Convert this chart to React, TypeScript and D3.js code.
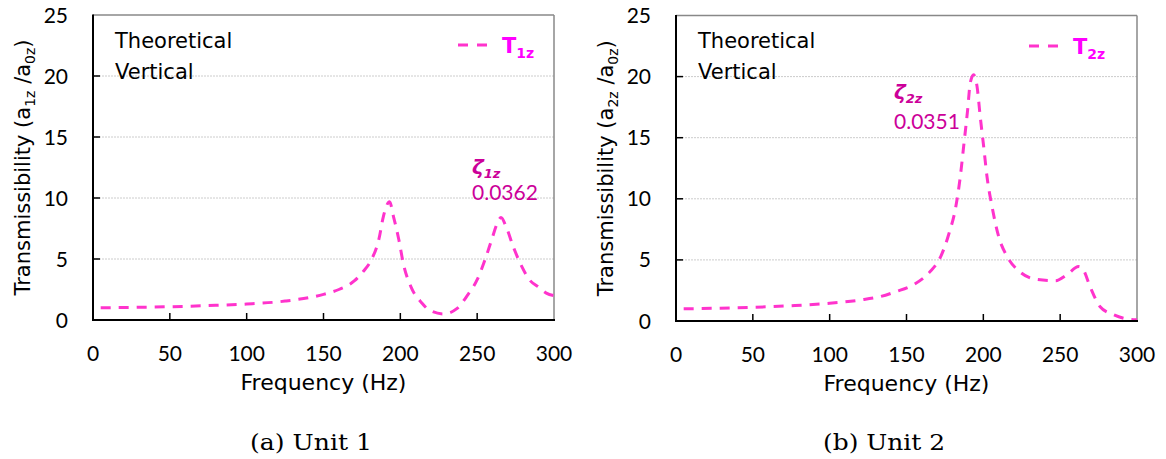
import React from "react";
import * as d3 from "d3";

// ---- data ----
const freqUnit1 = [5, 25, 50, 75, 100, 125, 150, 160, 170, 176, 181, 186, 189, 193, 195.5, 199, 202, 207, 214, 219, 228, 237, 243, 250, 255, 259.5, 263, 265.5, 269, 273.5, 279, 284, 290, 295, 300];
const transUnit1 = [1.0, 1.03, 1.09, 1.18, 1.31, 1.55, 2.1, 2.5, 3.2, 4.0, 4.9, 6.6, 8.5, 9.7, 8.5, 6.6, 4.6, 2.7, 1.4, 0.8, 0.5, 0.95, 1.9, 3.3, 4.9, 6.6, 7.9, 8.4, 7.6, 6.0, 4.4, 3.3, 2.7, 2.2, 2.0];

const freqUnit2 = [5, 25, 50, 75, 100, 120, 133, 143, 155, 165, 172, 177.5, 182, 185, 187.2, 189.8, 191.5, 193.7, 195.9, 198, 200.2, 202.4, 205.6, 210, 215.4, 224, 235, 247, 254.5, 262, 265, 269.5, 276, 285, 295, 300];
const transUnit2 = [1.0, 1.04, 1.12, 1.25, 1.45, 1.72, 2.0, 2.4, 3.0, 4.0, 5.2, 7.1, 9.3, 11.8, 14.3, 17.3, 19.5, 20.15, 19.2, 16.7, 14.3, 11.8, 9.4, 6.9, 5.3, 4.0, 3.4, 3.3, 3.8, 4.45, 4.2, 2.8, 1.17, 0.5, 0.14, 0.1];

const xTicks = [0, 50, 100, 150, 200, 250, 300];
const yTicks = [0, 5, 10, 15, 20, 25];
const captions = ["(a) Unit 1", "(b) Unit 2"];
const legendSubs = ["1z", "2z"];
const zetaSubs = ["1z", "2z"];
const zetaValues = ["0.0362", "0.0351"];
const yLabelSubs = ["1z", "2z"];

const LINE = "#ff33cc";
const LEGEND = "#ff00ff";
const ANNOT = "#cc0099";
const NUMFONT = "Lato, 'Open Sans', sans-serif";
const WORDFONT = "'DejaVu Sans', 'Open Sans', sans-serif";

type PanelProps = {
  x0: number; x1: number; y0: number; y1: number;
  freq: number[]; trans: number[];
  idx: number;
  legendX: number; legendY: number;
  zetaX: number; zetaY: number; zetaNumY: number;
  yLabelX: number; captionX: number;
};

function Panel(p: PanelProps) {
  const x = d3.scaleLinear().domain([0, 300]).range([p.x0, p.x1]);
  const y = d3.scaleLinear().domain([0, 25]).range([p.y0, p.y1]);
  const pts = p.freq.map((f, i) => [f, p.trans[i]] as [number, number]);
  const line = d3.line<[number, number]>()
    .x(d => x(d[0]))
    .y(d => y(d[1]))
    .curve(d3.curveMonotoneX);
  const cx = (p.x0 + p.x1) / 2;
  const cy = (p.y0 + p.y1) / 2;
  return (
    <g>
      {/* grid */}
      {yTicks.filter(t => t > 0 && t < 25).map(t => (
        <line key={"g" + t} x1={p.x0} x2={p.x1} y1={y(t)} y2={y(t)} stroke="#cccccc" strokeWidth={1} strokeDasharray="2,1" />
      ))}
      {/* frame top/right */}
      <line x1={p.x0} x2={p.x1} y1={p.y1} y2={p.y1} stroke="#888" strokeWidth={1.5} />
      <line x1={p.x1} x2={p.x1} y1={p.y1} y2={p.y0} stroke="#888" strokeWidth={1.5} />
      {/* curve */}
      <path d={line(pts) || ""} fill="none" stroke={LINE} strokeWidth={3} strokeDasharray="10,8" />
      {/* axes */}
      <line x1={p.x0} x2={p.x0} y1={p.y1 - 0.5} y2={p.y0 + 1} stroke="#000" strokeWidth={2} />
      <line x1={p.x0 - 1} x2={p.x1 + 1} y1={p.y0} y2={p.y0} stroke="#000" strokeWidth={2} />
      {xTicks.map(t => (
        <g key={"x" + t}>
          {t > 0 && t < 300 && <line x1={x(t)} x2={x(t)} y1={p.y0} y2={p.y0 - 7} stroke="#000" strokeWidth={1.5} />}
          <text x={x(t)} y={p.y0 + 41} textAnchor="middle" fontFamily={NUMFONT} fontSize={21} fill="#000">{t}</text>
        </g>
      ))}
      {yTicks.map(t => (
        <g key={"y" + t}>
          {t > 0 && t < 25 && <line x1={p.x0} x2={p.x0 + 7} y1={y(t)} y2={y(t)} stroke="#000" strokeWidth={1.5} />}
          <text x={p.x0 - 25} y={y(t) + 7.5} textAnchor="end" fontFamily={NUMFONT} fontSize={21} fill="#000">{t}</text>
        </g>
      ))}
      {/* axis titles */}
      <text x={cx} y={p.y0 + 70} textAnchor="middle" fontFamily={WORDFONT} fontSize={22} fill="#000">Frequency (Hz)</text>
      <text transform={`translate(${p.yLabelX},${cy}) rotate(-90)`} textAnchor="middle" fontFamily={WORDFONT} fontSize={21} fill="#000">
        Transmissibility (a<tspan fontSize={14} dy={5}>{yLabelSubs[p.idx]}</tspan><tspan dy={-5}> /a</tspan><tspan fontSize={14} dy={5}>0z</tspan><tspan dy={-5}>)</tspan>
      </text>
      {/* labels */}
      <text x={p.x0 + 22} y={48} fontFamily={WORDFONT} fontSize={21} fill="#000">Theoretical</text>
      <text x={p.x0 + 22} y={79} fontFamily={WORDFONT} fontSize={21} fill="#000">Vertical</text>
      {/* legend */}
      <line x1={p.legendX} x2={p.legendX + 30} y1={p.legendY} y2={p.legendY} stroke={LINE} strokeWidth={3} strokeDasharray="10,9" />
      <text x={p.legendX + 44} y={p.legendY + 8} fontFamily={WORDFONT} fontSize={21} fontWeight="bold" fill={LEGEND}>
        T<tspan fontSize={14} dy={5}>{legendSubs[p.idx]}</tspan>
      </text>
      {/* damping annotation */}
      <text x={p.zetaX} y={p.zetaY} fontFamily={WORDFONT} fontSize={20} fontWeight="bold" fontStyle="italic" fill={ANNOT}>
        ζ<tspan fontSize={13} dy={4}>{zetaSubs[p.idx]}</tspan>
      </text>
      <text x={p.zetaX} y={p.zetaNumY} fontFamily={NUMFONT} fontSize={21} fill={ANNOT}>{zetaValues[p.idx]}</text>
      {/* caption */}
      <text x={p.captionX} y={450} textAnchor="middle" fontFamily="'DejaVu Serif', 'Liberation Serif', serif" fontSize={22} textLength={122} lengthAdjust="spacingAndGlyphs" fill="#000">{captions[p.idx]}</text>
    </g>
  );
}

export default function App() {
  return (
    <svg width={1166} height={459} style={{ position: "absolute", left: 0, top: 0, background: "#fff" }}>
      <rect width={1166} height={459} fill="#fff" />
      <Panel x0={93} x1={554} y0={320} y1={15} freq={freqUnit1} trans={transUnit1} idx={0}
        legendX={458} legendY={45} zetaX={472} zetaY={174} zetaNumY={200} yLabelX={30} captionX={311} />
      <Panel x0={676} x1={1137} y0={321} y1={15.5} freq={freqUnit2} trans={transUnit2} idx={1}
        legendX={1029} legendY={46} zetaX={894} zetaY={99} zetaNumY={129} yLabelX={613} captionX={884} />
    </svg>
  );
}
